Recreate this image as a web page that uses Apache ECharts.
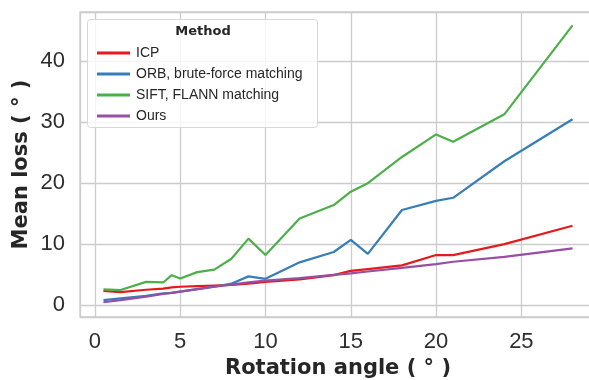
<!DOCTYPE html>
<html><head><meta charset="utf-8">
<script src="https://cdn.jsdelivr.net/npm/echarts@6/dist/echarts.min.js"></script>
<style>html,body{margin:0;padding:0;background:#fff}#c{width:589px;height:380px}</style>
</head><body><div id="c"></div>
<script>
const angles = [0.5, 1.5, 3, 4, 4.5, 5, 6, 7, 8, 9, 10, 12, 14, 15, 16, 18, 20, 21, 24, 28];
const icp  = [2.3, 2.1, 2.5, 2.7, 2.9, 3.0, 3.1, 3.2, 3.3, 3.5, 3.8, 4.2, 4.9, 5.6, 5.9, 6.5, 8.2, 8.2, 10.0, 13.0];
const orb  = [0.8, 1.1, 1.5, 1.9, 2.0, 2.2, 2.6, 3.0, 3.5, 4.7, 4.3, 7.0, 8.7, 10.7, 8.4, 15.6, 17.1, 17.6, 23.6, 30.5];
const sift = [2.55, 2.45, 3.8, 3.7, 4.9, 4.35, 5.4, 5.8, 7.6, 10.9, 8.2, 14.2, 16.4, 18.6, 20.0, 24.3, 28.0, 26.8, 31.3, 45.9];
const ours = [0.45, 0.8, 1.35, 1.8, 2.0, 2.2, 2.6, 3.0, 3.35, 3.7, 4.0, 4.4, 4.95, 5.2, 5.5, 6.1, 6.7, 7.1, 7.9, 9.3];
const seriesNames = ['ICP', 'ORB, brute-force matching', 'SIFT, FLANN matching', 'Ours'];
const colors = ['#e41a1c', '#377eb8', '#4daf4a', '#984ea3'];
const xTitle = 'Rotation angle ( ° )';
const yTitle = 'Mean loss ( ° )';
const legendTitle = 'Method';

const allData = [icp, orb, sift, ours];
const chart = echarts.init(document.getElementById('c'), null, {renderer: 'canvas'});
const grey = '#cccccc';
const txt = '#262626';
chart.setOption({
  animation: false,
  backgroundColor: '#fff',
  grid: {left: 80, top: 12, width: 516, height: 305, show: true, borderColor: grey, borderWidth: 1.3,
         backgroundColor: 'transparent', containLabel: false, outerBoundsMode: 'none'},
  xAxis: {
    type: 'value', min: -0.875, max: 29.375, splitNumber: 6,
    axisLine: {show: false}, axisTick: {show: false},
    splitLine: {show: true, lineStyle: {color: grey, width: 1.3}},
    axisLabel: {showMinLabel: false, showMaxLabel: false, fontFamily: 'Liberation Sans', fontSize: 22, color: '#2e2e2e', margin: 14},
    name: xTitle, nameLocation: 'middle', nameGap: 41,
    nameTextStyle: {fontFamily: 'DejaVu Sans', fontWeight: 'bold', fontSize: 21, color: txt}
  },
  yAxis: {
    type: 'value', min: -1.97, max: 48.1, splitNumber: 5,
    axisLine: {show: false}, axisTick: {show: false},
    splitLine: {show: true, lineStyle: {color: grey, width: 1.3}},
    axisLabel: {showMinLabel: false, showMaxLabel: false, fontFamily: 'Liberation Sans', fontSize: 22, color: '#2e2e2e', margin: 15},
    name: yTitle, nameLocation: 'middle', nameGap: 48, nameRotate: 90, nameMoveOverlap: false,
    nameTextStyle: {fontFamily: 'DejaVu Sans', fontWeight: 'bold', fontSize: 21, color: txt}
  },
  legend: {
    orient: 'vertical', left: 92, top: 41, itemGap: 7, itemWidth: 33, itemHeight: 3,
    icon: 'rect', z: 10,
    textStyle: {fontFamily: 'Liberation Sans', fontSize: 14, color: txt, lineHeight: 14, padding: [0, 0, 0, 1]},
    data: seriesNames
  },
  graphic: [
    {type: 'rect', z: 5, shape: {x: 87.5, y: 19.5, width: 230, height: 108, r: 3},
     style: {fill: 'rgba(255,255,255,0.8)', stroke: '#d8d8d8', lineWidth: 1}},
    {type: 'text', z: 11, x: 203, y: 32,
     style: {text: legendTitle, fontFamily: 'DejaVu Sans', fontWeight: 'bold', fontSize: 13, fill: txt, align: 'center', verticalAlign: 'middle'}}
  ],
  series: seriesNames.map((n, i) => ({
    name: n, type: 'line', showSymbol: false, symbol: 'none',
    data: angles.map((a, j) => [a, allData[i][j]]),
    lineStyle: {color: colors[i], width: 2.2}, itemStyle: {color: colors[i]}
  }))
});
</script></body></html>
